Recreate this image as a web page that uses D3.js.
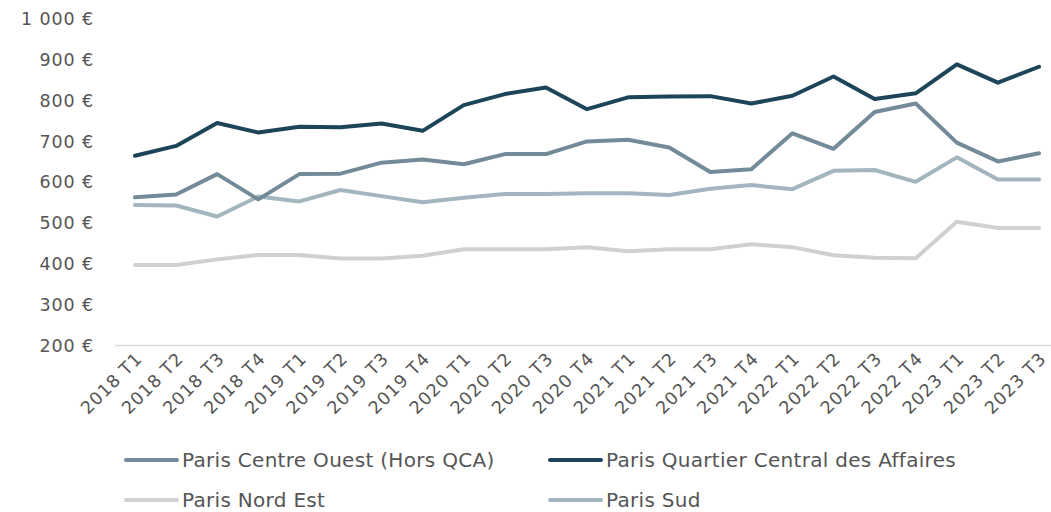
<!DOCTYPE html>
<html><head><meta charset="utf-8">
<script src="https://cdn.jsdelivr.net/npm/d3@7"></script>
<style>
html,body{margin:0;padding:0;background:#fff;}
svg{display:block;}
text{font-family:"DejaVu Sans",sans-serif;}
</style></head>
<body>
<svg id="chart" width="1051" height="512"></svg>
<script>
const categories = ["2018 T1","2018 T2","2018 T3","2018 T4","2019 T1","2019 T2","2019 T3","2019 T4","2020 T1","2020 T2","2020 T3","2020 T4","2021 T1","2021 T2","2021 T3","2021 T4","2022 T1","2022 T2","2022 T3","2022 T4","2023 T1","2023 T2","2023 T3"];
const centreOuest = [563,570,620,558,620,621,648,656,644,669,669,700,704,685,625,632,720,682,772,793,697,651,671];
const qca = [665,689,745,722,736,735,744,726,789,816,832,779,808,810,811,793,812,859,804,818,889,844,883];
const nordEst = [397,397,411,422,422,413,413,420,436,436,436,441,431,436,436,448,441,421,415,414,503,488,488];
const sud = [544,543,516,565,553,581,566,551,562,571,571,573,573,569,584,593,583,628,630,601,661,607,607];
const yTicks = [200,300,400,500,600,700,800,900,1000];
const seriesNames = ["Paris Centre Ouest (Hors QCA)","Paris Quartier Central des Affaires","Paris Nord Est","Paris Sud"];
const seriesColors = ["#738b98","#1c4559","#d0d0d0","#a3b5bf"];
const seriesValues = [centreOuest, qca, nordEst, sud];

const svg = d3.select("#chart");
const x = d3.scalePoint().domain(categories).range([135,1039]);
const y = d3.scaleLinear().domain([200,1000]).range([345.5,19]);

// y tick labels
const fmt = v => (v >= 1000 ? d3.format(",")(v).replace(",", " ") : String(v)) + " \u20ac";
svg.append("g").selectAll("text").data(yTicks).join("text")
  .attr("x", 94).attr("y", d => y(d)).attr("dy","0.35em")
  .attr("text-anchor","end").attr("fill","#555").attr("font-size",17.5)
  .attr("letter-spacing","0.9px")
  .text(fmt);

// axis line
svg.append("line").attr("x1",115).attr("x2",1051).attr("y1",y(200)).attr("y2",y(200))
  .attr("stroke","#d9d9d9").attr("stroke-width",1.5);

// x labels
svg.append("g").selectAll("text").data(categories).join("text")
  .attr("transform", d => `translate(${x(d)+4},${y(200)+10}) rotate(-45)`)
  .attr("text-anchor","end").attr("dy","0.35em")
  .attr("fill","#555").attr("font-size",17.5).attr("letter-spacing","0.9px")
  .text(d => d);

// lines
const line = d3.line().x((d,i) => x(categories[i])).y(d => y(d));
const order = [2,3,0,1];
svg.append("g").selectAll("path").data(order).join("path")
  .attr("d", k => line(seriesValues[k]))
  .attr("fill","none").attr("stroke", k => seriesColors[k])
  .attr("stroke-width",4).attr("stroke-linejoin","round").attr("stroke-linecap","round");

// legend
const legPos = [[124,460],[548,460],[124,500],[548,500]];
const lg = svg.append("g").selectAll("g").data(seriesNames).join("g")
  .attr("transform",(d,i)=>`translate(${legPos[i][0]},${legPos[i][1]})`);
lg.append("line").attr("x1",2).attr("x2",53).attr("stroke",(d,i)=>seriesColors[i])
  .attr("stroke-width",4).attr("stroke-linecap","round");
lg.append("text").attr("x",58).attr("dy","0.35em").attr("font-size",20)
  .attr("letter-spacing","0.3px")
  .attr("fill","#555").text(d=>d);
</script>
</body></html>
